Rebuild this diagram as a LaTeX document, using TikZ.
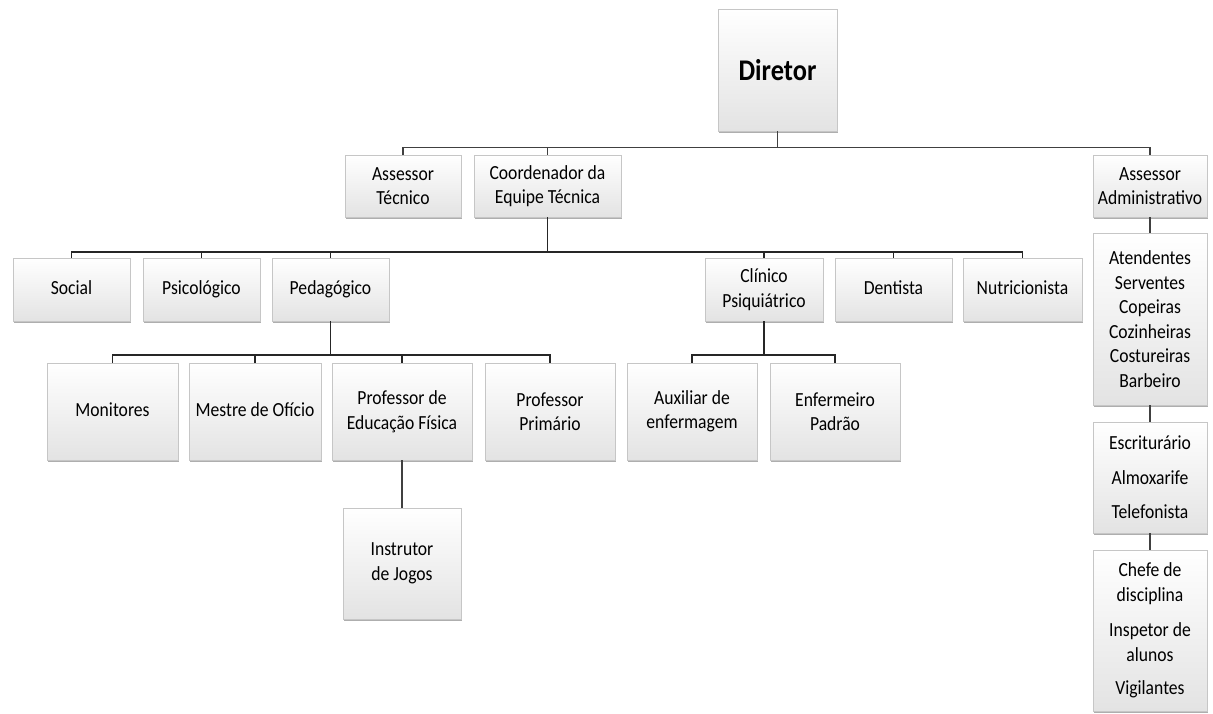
\documentclass[tikz,border=0pt]{standalone}
\usepackage{fontspec}
\setmainfont{Carlito}[FakeStretch=0.88]
\usetikzlibrary{shadows}

\begin{document}
\begin{tikzpicture}[x=1pt, y=-1pt,
    post/.style ={draw=gray!45, line width=0.5pt, top color=white, middle color=white,
      bottom color=gray!22, align=center, inner sep=2pt,
      font=\fontsize{20}{24.5}\selectfont,
      drop shadow={shadow xshift=1.2pt, shadow yshift=-2.4pt, opacity=0.45, fill=black!70}},
    one/.style ={text height=14pt, text depth=4.5pt},
    tie/.style ={draw=black!75, line width=1.1pt},
    bigtie/.style ={draw=black!85, line width=1.7pt}]
   \useasboundingbox (0,0) rectangle (1213,713);
   % diretoria
   \node[post, minimum width=119pt, minimum height=122pt, font=\fontsize{30}{33}\selectfont\bfseries] (dir) at (777.5,70) {Diretor};
   \node[post, minimum width=116pt, minimum height=62pt] (asstec) at (403,186) {Assessor\\Técnico};
   \node[post, minimum width=147pt, minimum height=62pt] (coord)  at (547.5,186) {Coordenador da\\Equipe Técnica};
   \node[post, minimum width=114pt, minimum height=62pt] (assadm) at (1150,186) {Assessor\\Administrativo};
   % equipe tecnica
   \node[post, one, minimum width=117pt, minimum height=63pt] (social) at (71.5,289.5) {Social};
   \node[post, one, minimum width=117pt, minimum height=63pt] (psico)  at (201.5,289.5) {Psicológico};
   \node[post, one, minimum width=117pt, minimum height=63pt] (peda)   at (330.5,289.5) {Pedagógico};
   \node[post, minimum width=118pt, minimum height=63pt] (clin)   at (764,289.5) {Clínico\\Psiquiátrico};
   \node[post, one, minimum width=117pt, minimum height=63pt] (dent)   at (893.5,289.5) {Dentista};
   \node[post, one, minimum width=119pt, minimum height=63pt] (nutri)  at (1022.5,289.5) {Nutricionista};
   % pedagogico e clinico
   \node[post, one, minimum width=131pt, minimum height=97pt] (moni)    at (112.5,411.5) {Monitores};
   \node[post, one, minimum width=132pt, minimum height=97pt] (mestre)  at (255,411.5) {Mestre de Ofício};
   \node[post, minimum width=140pt, minimum height=97pt] (profed)  at (402,411.5) {Professor de\\Educação Física};
   \node[post, minimum width=130pt, minimum height=97pt] (profpri) at (550,411.5) {Professor\\Primário};
   \node[post, minimum width=130pt, minimum height=97pt] (aux)     at (692,411.5) {Auxiliar de\\enfermagem};
   \node[post, minimum width=130pt, minimum height=97pt] (enf)     at (835,411.5) {Enfermeiro\\Padrão};
   \node[post, minimum width=118pt, minimum height=111pt] (instr)  at (402,563.5) {Instrutor\\de Jogos};
   % administrativo
   \node[post, minimum width=114pt, minimum height=172pt] (aten)  at (1150,319) {Atendentes\\Serventes\\Copeiras\\Cozinheiras\\Costureiras\\Barbeiro};
   \node[post, minimum width=114pt, minimum height=111pt] (escr)  at (1150,477.5) {Escriturário\\[10pt]Almoxarife\\[10pt]Telefonista};
   \node[post, minimum width=114pt, minimum height=161pt] (chefe) at (1150,630.5) {Chefe de\\disciplina\\[11pt]Inspetor de\\alunos\\[9pt]Vigilantes};
   % ligacoes
   \foreach \n in {asstec,coord,assadm}
     \draw[tie] (dir.south) -- ++(0,16) -| (\n.north);
   \foreach \n in {social,psico,peda,clin,dent,nutri}
     \draw[bigtie] (coord.south) -- ++(0,35) -| (\n.north);
   \foreach \n in {moni,mestre,profed,profpri}
     \draw[bigtie] (peda.south) -- ++(0,34) -| (\n.north);
   \foreach \n in {aux,enf}
     \draw[bigtie] (clin.south) -- ++(0,34) -| (\n.north);
   \draw[tie] (profed) -- (instr);
   \draw[tie] (assadm) -- (aten);
   \draw[tie] (aten) -- (escr);
   \draw[tie] (escr) -- (chefe);
\end{tikzpicture}
\end{document}
